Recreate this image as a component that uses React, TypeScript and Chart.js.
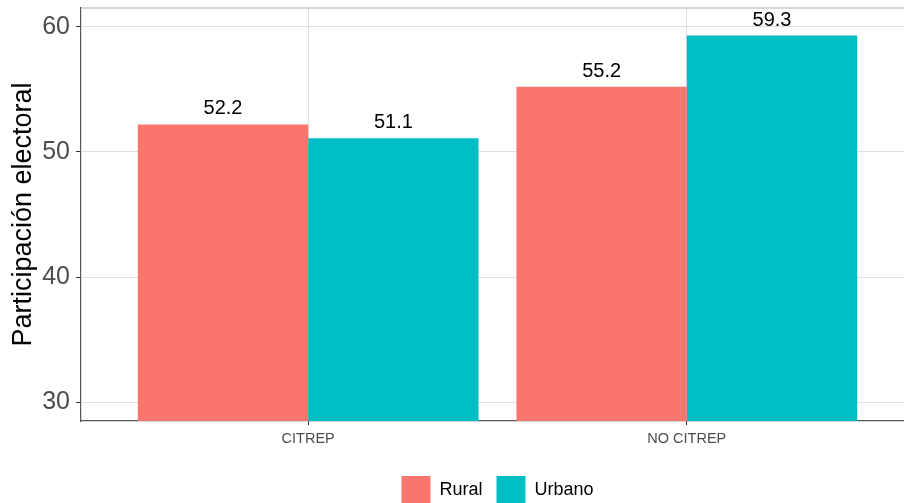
import React, { useEffect, useRef } from 'react';
import { Chart, registerables } from 'chart.js';

Chart.register(...registerables);

const categories = ['CITREP', 'NO CITREP'];
const seriesNames = ['Rural', 'Urbano'];
const rural = [52.2, 55.2];
const urbano = [51.1, 59.3];
const yTicks = [30, 40, 50, 60];
const seriesColors = ['#F8766D', '#00BFC4'];

const FONT = "'Liberation Sans', Arial, Helvetica, sans-serif";

const valueLabels = {
  id: 'valueLabels',
  afterDatasetsDraw(chart: any) {
    const ctx = chart.ctx;
    ctx.save();
    ctx.font = `20px ${FONT}`;
    ctx.fillStyle = '#000000';
    ctx.textAlign = 'center';
    ctx.textBaseline = 'alphabetic';
    chart.data.datasets.forEach((ds: any, di: number) => {
      const meta = chart.getDatasetMeta(di);
      meta.data.forEach((el: any, i: number) => {
        const v = ds.data[i].y;
        ctx.fillText(v.toFixed(1), el.x, el.y - 10);
      });
    });
    ctx.restore();
  },
};

const topBorder = {
  id: 'topBorder',
  afterDraw(chart: any) {
    const { ctx, chartArea } = chart;
    ctx.save();
    ctx.strokeStyle = '#b3b3b3';
    ctx.lineWidth = 1.2;
    ctx.beginPath();
    ctx.moveTo(chartArea.left, chartArea.top);
    ctx.lineTo(chartArea.right, chartArea.top);
    ctx.stroke();
    ctx.restore();
  },
};

export default function App() {
  const ref = useRef<HTMLCanvasElement | null>(null);

  useEffect(() => {
    if (!ref.current) return;
    const series = [rural, urbano];
    const chart = new Chart(ref.current, {
      type: 'bar',
      data: {
        datasets: series.map((vals, si) => ({
          label: seriesNames[si],
          data: vals.map((v, i) => ({ x: i + 1, y: v })),
          backgroundColor: seriesColors[si],
          borderWidth: 0,
          barPercentage: 1,
          categoryPercentage: 0.9,
        })),
      },
      options: {
        animation: false,
        responsive: false,
        devicePixelRatio: 1,
        layout: { padding: { left: 0, right: 6, top: 8, bottom: 0 } },
        scales: {
          x: {
            type: 'linear',
            min: 0.4,
            max: 2.6,
            offset: false,
            afterBuildTicks: (s: any) => {
              s.ticks = categories.map((_, i) => ({ value: i + 1 }));
            },
            afterFit: (s: any) => {
              s.height = 41;
              s.paddingLeft = 0;
              s.paddingRight = 0;
            },
            ticks: {
              callback: (v: any) => categories[Number(v) - 1] ?? '',
              font: { family: FONT, size: 14.5 },
              color: '#4d4d4d',
              padding: 5,
              maxRotation: 0,
              autoSkip: false,
            },
            grid: { offset: false, color: '#dedede', tickColor: '#333333', tickLength: 4, lineWidth: 1 },
            border: { display: true, color: '#555555', width: 1.2 },
          },
          y: {
            type: 'linear',
            min: 28.5,
            max: 61.5,
            afterBuildTicks: (s: any) => {
              s.ticks = yTicks.map((v) => ({ value: v }));
            },
            afterFit: (s: any) => {
              s.width = 81;
              s.paddingTop = 0;
              s.paddingBottom = 0;
            },
            ticks: {
              font: { family: FONT, size: 25 },
              color: '#4d4d4d',
              padding: 6,
            },
            grid: { color: '#dedede', tickColor: '#333333', tickLength: 5, lineWidth: 1 },
            border: { display: true, color: '#555555', width: 1.2 },
            title: {
              display: true,
              text: 'Participación electoral',
              font: { family: FONT, size: 27 },
              color: '#000000',
              padding: { top: 7, bottom: 0 },
            },
          },
        },
        plugins: {
          legend: {
            position: 'bottom',
            fullSize: false,
            labels: {
              boxWidth: 29,
              boxHeight: 29,
              padding: 14,
              font: { family: FONT, size: 18 },
              color: '#000000',
            },
          },
          tooltip: { enabled: false },
        },
      },
      plugins: [valueLabels, topBorder],
    } as any);
    return () => chart.destroy();
  }, []);

  return (
    <div style={{ position: 'absolute', left: 0, top: 0, width: 904, height: 503, overflow: 'hidden', background: '#ffffff' }}>
      <canvas ref={ref} width={920} height={515} style={{ display: 'block' }} />
    </div>
  );
}
